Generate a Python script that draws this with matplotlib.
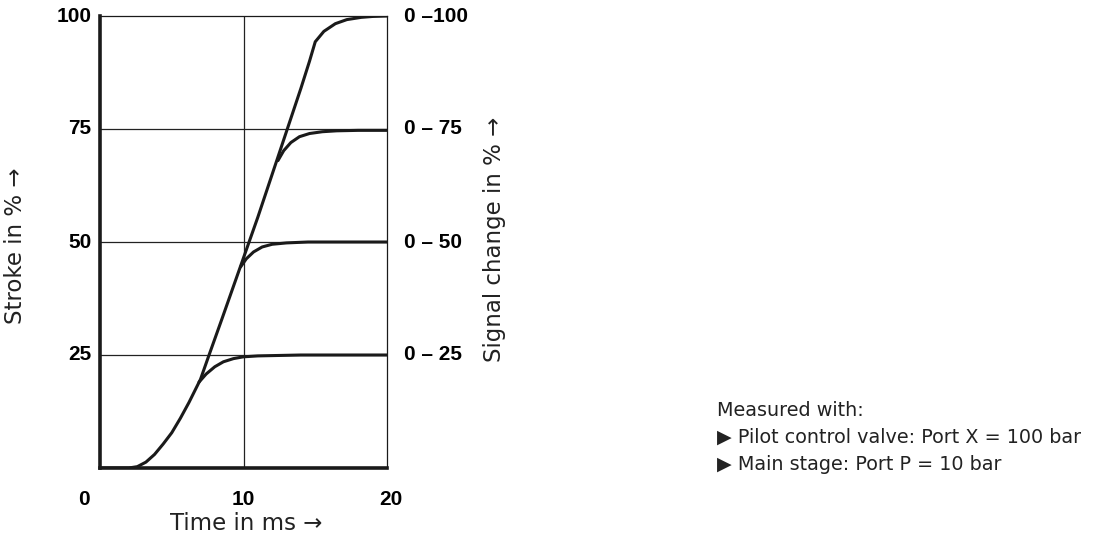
import matplotlib.pyplot as plt

# curve: time in ms, stroke in %
t_100 = [0.0, 2.0, 2.6, 3.2, 3.8, 4.4, 5.0, 5.6, 6.2, 7.0, 7.6, 8.5, 9.5, 10.0, 11.0, 12.0, 13.0, 14.0, 14.6, 15.0, 15.6, 16.4, 17.2, 18.2, 19.0, 20.0]
s_100 = [0.0, 0.0, 0.3, 1.3, 3.0, 5.3, 7.8, 11.0, 14.5, 19.6, 25.0, 33.0, 42.0, 46.5, 55.5, 65.0, 74.5, 84.0, 90.0, 94.3, 96.6, 98.3, 99.2, 99.7, 99.9, 100.0]

t_75 = [12.4, 12.8, 13.3, 13.9, 14.6, 15.5, 16.5, 18.0, 20.0]
s_75 = [68.0, 70.2, 72.0, 73.3, 74.0, 74.4, 74.6, 74.7, 74.7]

t_50 = [9.8, 10.2, 10.7, 11.3, 12.0, 13.0, 14.5, 16.0, 20.0]
s_50 = [44.5, 46.3, 47.8, 48.9, 49.5, 49.8, 50.0, 50.0, 50.0]

t_25 = [6.9, 7.4, 8.0, 8.6, 9.3, 10.0, 11.0, 12.5, 14.0, 20.0]
s_25 = [19.0, 20.8, 22.4, 23.5, 24.2, 24.6, 24.8, 24.9, 25.0, 25.0]

x_ticks = [0, 10, 20]
y_ticks = [25, 50, 75, 100]
right_labels = ["0 \u2013 25", "0 \u2013 50", "0 \u2013 75", "0 \u2013100"]

notes = [
    "Measured with:",
    "\u25b6 Pilot control valve: Port X = 100 bar",
    "\u25b6 Main stage: Port P = 10 bar",
]

bold_font = ["Liberation Sans", "DejaVu Sans"]
plain_font = ["DejaVu Sans"]

fig = plt.figure(figsize=(10.94, 5.39), dpi=100)
ax = fig.add_axes([100 / 1094, 1 - 468 / 539, 287 / 1094, 452 / 539])

for y in [25, 50, 75]:
    ax.axhline(y, color="#222222", lw=0.9, zorder=1)
ax.axvline(10, color="#222222", lw=0.9, zorder=1)

for t, s in [(t_100, s_100), (t_75, s_75), (t_50, s_50), (t_25, s_25)]:
    ax.plot(t, s, color="#1a1a1a", lw=2.2, solid_capstyle="round", zorder=3)

ax.set_xlim(0, 20)
ax.set_ylim(0, 100)
for side in ["top", "right"]:
    ax.spines[side].set_linewidth(0.9)
for side in ["left", "bottom"]:
    ax.spines[side].set_linewidth(2.6)
for sp in ax.spines.values():
    sp.set_color("#1a1a1a")

ax.set_xticks([])
ax.set_yticks([])

# tick labels as text, placed in data coordinates
for x in x_ticks:
    ax.text(x - (1.1 if x == 0 else 0) + (0.3 if x == 20 else 0), -7, str(x),
            ha="center", va="center", fontsize=15, fontweight="bold",
            family=bold_font, clip_on=False)
for y in y_ticks:
    ax.text(-0.6, y, str(y), ha="right", va="center", fontsize=15,
            fontweight="bold", family=bold_font, clip_on=False)
for y, lab in zip(y_ticks, right_labels):
    ax.text(21.2, y, lab, ha="left", va="center", fontsize=15,
            fontweight="bold", family=bold_font, clip_on=False)

fig.text(246 / 1094, 1 - 524 / 539, "Time in ms \u2192", ha="center", va="center",
         fontsize=16.5, family=plain_font, color="#222222")
fig.text(16 / 1094, 1 - 246 / 539, "Stroke in % \u2192", ha="center", va="center",
         rotation=90, fontsize=16.5, family=plain_font, color="#222222")
fig.text(494 / 1094, 1 - 239 / 539, "Signal change in % \u2192", ha="center", va="center",
         rotation=90, fontsize=16.5, family=plain_font, color="#222222")

for i, line in enumerate(notes):
    fig.text(717 / 1094, 1 - (411 + i * 26.5) / 539, line, ha="left", va="center",
             fontsize=13.8, family=plain_font, color="#222222")

fig.savefig("out.png", dpi=100)
